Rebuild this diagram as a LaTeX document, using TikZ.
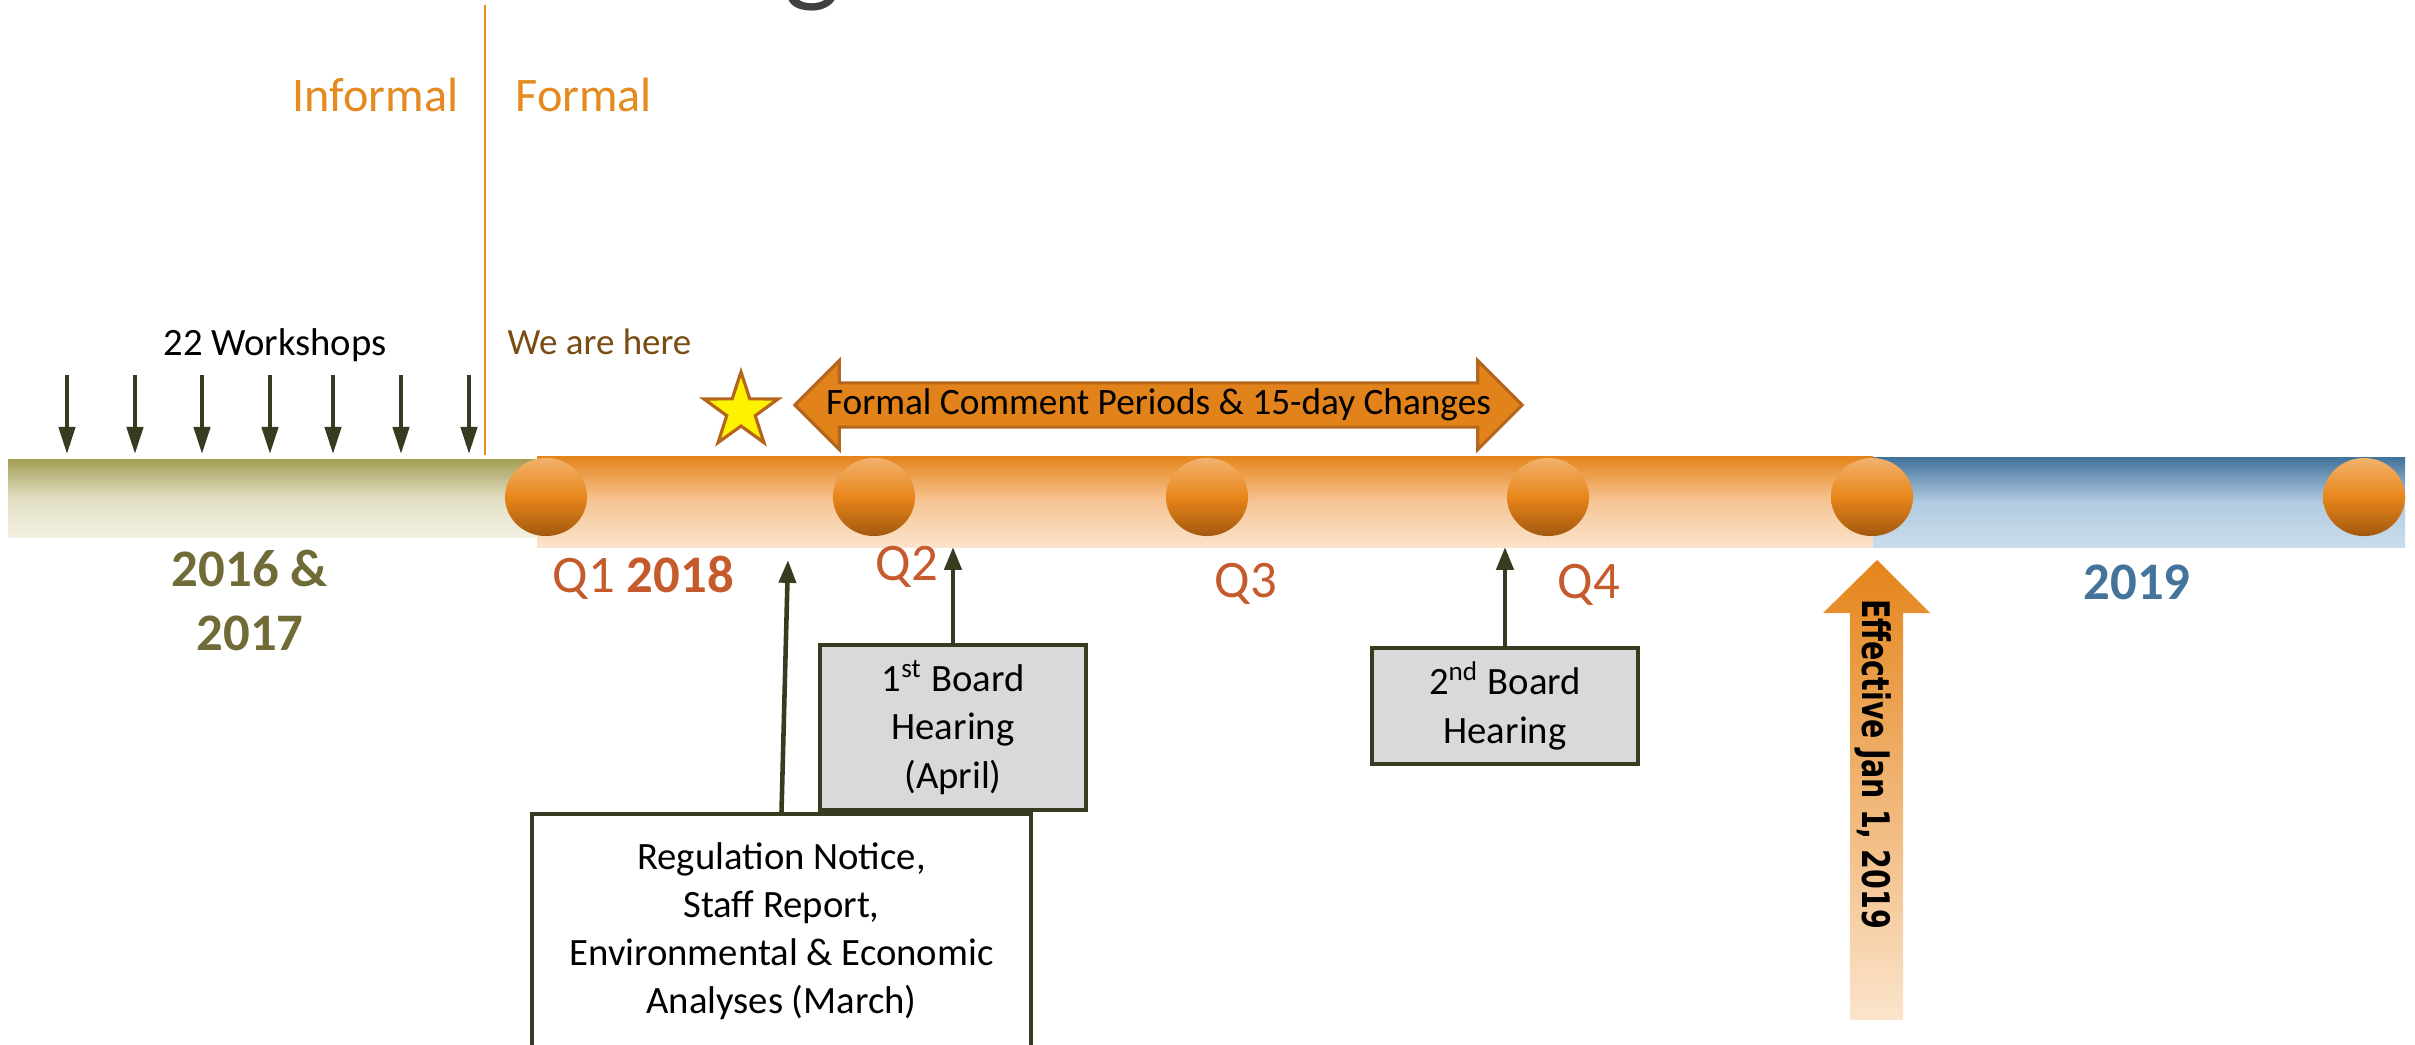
\documentclass[tikz,border=0pt]{standalone}
\usepackage{fontspec}
\setmainfont{Carlito}
\newfontfamily\efffont[FakeStretch=0.75]{DejaVu Sans}
\usepackage{xcolor}
\usepackage{tikz}
\usetikzlibrary{shapes,arrows.meta,positioning,calc}

\definecolor{oliveTop}{HTML}{A39D55}
\definecolor{oliveMid}{HTML}{E2DFC4}
\definecolor{oliveBot}{HTML}{F3F0E3}
\definecolor{orangeTop}{HTML}{E5841A}
\definecolor{orangeMid}{HTML}{F6C594}
\definecolor{orangeBot}{HTML}{FBE4CC}
\definecolor{blueTop}{HTML}{41729B}
\definecolor{blueMid}{HTML}{B2CBE0}
\definecolor{blueBot}{HTML}{CADCEA}
\definecolor{ballTop}{HTML}{F2B26C}
\definecolor{ballMid}{HTML}{E8861A}
\definecolor{ballBot}{HTML}{A2580F}
\definecolor{lineDark}{HTML}{363C20}
\definecolor{qRust}{HTML}{C55A2D}
\definecolor{yearOlive}{HTML}{716B38}
\definecolor{yearBlue}{HTML}{44749C}
\definecolor{formalOrange}{HTML}{E48A1E}
\definecolor{hereBrown}{HTML}{7A4B13}
\definecolor{arrowFill}{HTML}{E2821A}
\definecolor{arrowEdge}{HTML}{B4661E}
\definecolor{boxGray}{HTML}{D9D9D9}
\definecolor{titleGray}{HTML}{404040}

\begin{document}
\begin{tikzpicture}[
            x=0.01cm, y=-0.01cm,
            ball/.style={ellipse, minimum width=0.82cm, minimum height=0.78cm, inner sep=0pt,
                top color=ballTop, bottom color=ballBot, middle color=ballMid},
            tag/.style={inner sep=0pt},
            qlabel/.style={tag, anchor=base west, text=qRust, font=\fontsize{15}{18}\selectfont},
            year/.style={font=\fontsize{15}{18.2}\selectfont\bfseries, align=center},
            hearing/.style={draw=lineDark, line width=1.2pt, fill=boxGray, minimum width=2.66cm,
                align=center, font=\fontsize{11}{13.8}\selectfont},
            uparrow/.style={-{Triangle[length=6.5pt,width=4.8pt]}, line width=1.3pt, draw=lineDark},
            downarrow/.style={-{Triangle[length=7.7pt,width=4.6pt]}, line width=1.1pt, draw=lineDark}
        ]
            \useasboundingbox (0,0) rectangle (2415,1044);
            \clip (0,0) rectangle (2415,1044);

            % title, cut off at the top
            \node[tag, anchor=base, text=titleGray, font=\fontsize{34}{40}\selectfont] (title) at (813,-10) {g};

            % timeline bars
            \shade[top color=oliveTop, bottom color=oliveBot, middle color=oliveMid] (8,459) rectangle (539,537);
            \shade[top color=orangeTop, bottom color=orangeBot, middle color=orangeMid] (537,456) rectangle (1873,547);
            \shade[top color=blueTop, bottom color=blueBot, middle color=blueMid] (1873,457) rectangle (2405,547);

            \foreach \x [count=\i] in {546,874,1207,1548,1872,2364}
                \node[ball] (m\i) at (\x,497) {};

            % informal / formal split
            \coordinate (divtop) at (485,5);
            \coordinate (divbot) at (485,455);
            \draw[formalOrange, line width=0.7pt] (divtop) -- (divbot);
            \node[tag, anchor=base east, text=formalOrange, font=\fontsize{13.7}{16}\selectfont] (informal) at (459,111) {Informal};
            \node[tag, anchor=base west, text=formalOrange, font=\fontsize{13.7}{16}\selectfont] (formal) at (515,111) {Formal};

            % workshops
            \node[tag, anchor=base, font=\fontsize{11}{13}\selectfont] (workshops) at (275,355) {22 Workshops};
            \foreach \x [count=\i] in {67,135,202,270,333,401,469} {
                \coordinate (ws\i) at (\x,375);
                \coordinate (we\i) at (\x,454);
                \draw[downarrow] (ws\i) -- (we\i);
            }

            \node[tag, anchor=base west, text=hereBrown, font=\fontsize{10.5}{13}\selectfont] (here) at (507,354) {We are here};
            \node[star, star points=5, star point ratio=2.6, minimum size=0.78cm, inner sep=0pt,
                fill=yellow, draw=arrowEdge, line width=0.9pt] (star) at (741,411) {};

            \node[double arrow, double arrow head extend=0.215cm, double arrow tip angle=90,
                minimum height=7.27cm, minimum width=0.89cm, inner sep=1pt,
                fill=arrowFill, draw=arrowEdge, line width=0.9pt,
                font=\fontsize{10.6}{12}\selectfont] (comment) at (1158.5,405) {Formal Comment Periods \& 15-day Changes};

            % year and quarter labels
            \node[year, text=yearOlive] (y1617) at (250,600) {2016 \&\\2017};
            \node[qlabel] (q1) at (552,592) {Q1 \textbf{2018}};
            \node[qlabel] (q2) at (875,580) {Q2};
            \node[qlabel] (q3) at (1214,597) {Q3};
            \node[qlabel] (q4) at (1557,598) {Q4};
            \node[tag, anchor=base west, text=yearBlue, font=\fontsize{15}{18}\selectfont\bfseries] (y19) at (2083,599) {2019};

            % milestones
            \node[hearing, minimum height=1.65cm] (board1) at (953,727.5) {1\textsuperscript{st} Board\\Hearing\\(April)};
            \node[hearing, minimum height=1.16cm] (board2) at (1505,706) {2\textsuperscript{nd} Board\\Hearing};
            \node[draw=lineDark, line width=1.2pt, fill=white, minimum width=4.99cm, minimum height=2.34cm,
                align=center, font=\fontsize{11}{13.7}\selectfont] (notice) at (781.5,931)
                {Regulation Notice,\\Staff Report,\\Environmental \& Economic\\Analyses (March)};

            \coordinate (noticetip) at (788,560);
            \coordinate (board1tip) at (953,547);
            \coordinate (board2tip) at (1505,547);
            \draw[uparrow] (notice.north) -- (noticetip);
            \draw[uparrow] (board1.north) -- (board1tip);
            \draw[uparrow] (board2.north) -- (board2tip);

            % effective date
            \shade[top color=orangeTop, bottom color=orangeBot] (1850,1020) -- (1850,613) -- (1823,613)
                -- (1877,560) -- (1930,613) -- (1903,613) -- (1903,1020) -- cycle;
            \node[rotate=-90, font=\efffont\bfseries\fontsize{10.8}{13}\selectfont] (effective) at (1873,764) {Effective Jan 1, 2019};
        \end{tikzpicture}
\end{document}
